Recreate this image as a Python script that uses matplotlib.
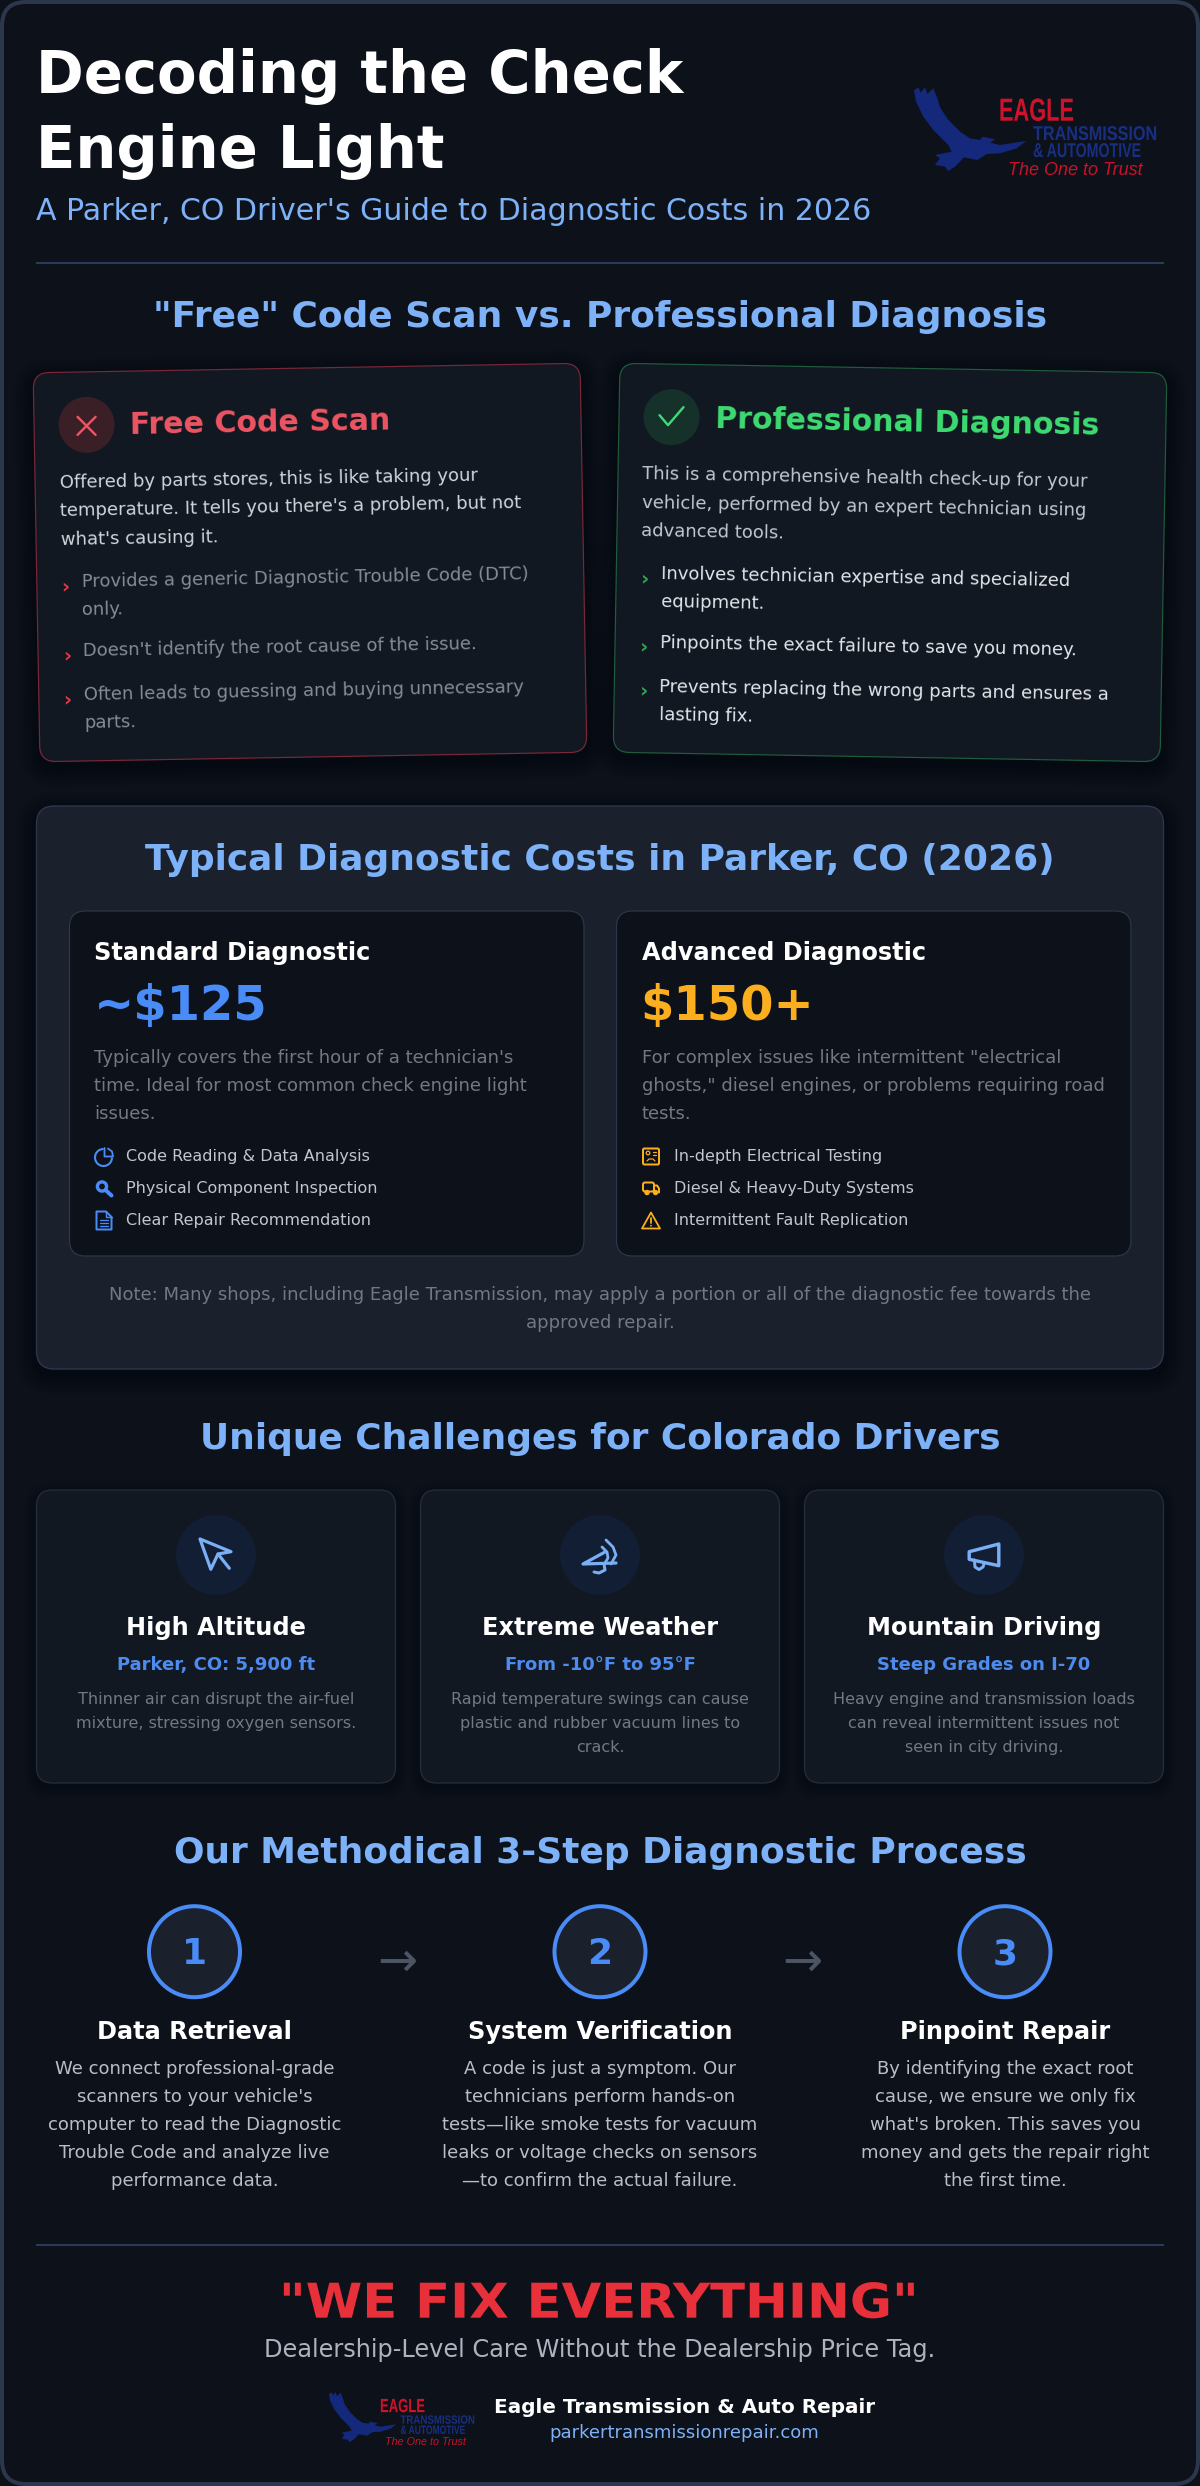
import matplotlib
matplotlib.use("Agg")
import matplotlib.pyplot as plt
from matplotlib.patches import FancyBboxPatch, Circle, Polygon, Arc
from matplotlib.patheffects import AbstractPathEffect
from matplotlib.transforms import Affine2D
import logging
logging.getLogger('matplotlib.font_manager').setLevel(logging.ERROR)

plt.rcParams['font.family'] = ['DejaVu Sans']

TITLE_LINES = ["Decoding the Check", "Engine Light"]
SUBTITLE = "A Parker, CO Driver's Guide to Diagnostic Costs in 2026"
H_COMPARE = '"Free" Code Scan vs. Professional Diagnosis'
FREE_TITLE = "Free Code Scan"
FREE_PARA = ["Offered by parts stores, this is like taking your",
             "temperature. It tells you there's a problem, but not",
             "what's causing it."]
FREE_ITEMS = [["Provides a generic Diagnostic Trouble Code (DTC)", "only."],
              ["Doesn't identify the root cause of the issue."],
              ["Often leads to guessing and buying unnecessary", "parts."]]
PRO_TITLE = "Professional Diagnosis"
PRO_PARA = ["This is a comprehensive health check-up for your",
            "vehicle, performed by an expert technician using",
            "advanced tools."]
PRO_ITEMS = [["Involves technician expertise and specialized", "equipment."],
             ["Pinpoints the exact failure to save you money."],
             ["Prevents replacing the wrong parts and ensures a", "lasting fix."]]
H_COSTS = "Typical Diagnostic Costs in Parker, CO (2026)"
COST_NAMES = ["Standard Diagnostic", "Advanced Diagnostic"]
COST_PRICES = ["~$125", "$150+"]
COST_DESCS = [["Typically covers the first hour of a technician's",
               "time. Ideal for most common check engine light", "issues."],
              ['For complex issues like intermittent "electrical',
               'ghosts," diesel engines, or problems requiring road', "tests."]]
COST_FEATURES = [["Code Reading & Data Analysis", "Physical Component Inspection", "Clear Repair Recommendation"],
                 ["In-depth Electrical Testing", "Diesel & Heavy-Duty Systems", "Intermittent Fault Replication"]]
COST_NOTE = ["Note: Many shops, including Eagle Transmission, may apply a portion or all of the diagnostic fee towards the",
             "approved repair."]
H_CHALLENGES = "Unique Challenges for Colorado Drivers"
CH_TITLES = ["High Altitude", "Extreme Weather", "Mountain Driving"]
CH_SUBS = ["Parker, CO: 5,900 ft", "From -10°F to 95°F", "Steep Grades on I-70"]
CH_DESCS = [["Thinner air can disrupt the air-fuel", "mixture, stressing oxygen sensors."],
            ["Rapid temperature swings can cause", "plastic and rubber vacuum lines to", "crack."],
            ["Heavy engine and transmission loads", "can reveal intermittent issues not", "seen in city driving."]]
H_PROCESS = "Our Methodical 3-Step Diagnostic Process"
STEP_NUMS = ["1", "2", "3"]
STEP_TITLES = ["Data Retrieval", "System Verification", "Pinpoint Repair"]
STEP_DESCS = [["We connect professional-grade", "scanners to your vehicle's", "computer to read the Diagnostic",
               "Trouble Code and analyze live", "performance data."],
              ["A code is just a symptom. Our", "technicians perform hands-on", "tests—like smoke tests for vacuum",
               "leaks or voltage checks on sensors", "—to confirm the actual failure."],
              ["By identifying the exact root", "cause, we ensure we only fix", "what's broken. This saves you",
               "money and gets the repair right", "the first time."]]
SLOGAN = '"WE FIX EVERYTHING"'
TAGLINE = "Dealership-Level Care Without the Dealership Price Tag."
COMPANY = "Eagle Transmission & Auto Repair"
URL = "parkertransmissionrepair.com"
LOGO_TEXT = ["EAGLE", "TRANSMISSION", "& AUTOMOTIVE", "The One to Trust"]

BG = '#0d111a'; PANEL = '#1a202c'; CARD = '#111822'; LINE = '#2d3748'
SKY = '#7db1f8'; BLUE = '#4a8cf7'; AMBER = '#fbae1e'; RED = '#e8303a'
G1 = '#d1d5db'; G2 = '#8b9099'; G3 = '#737983'

fig = plt.figure(figsize=(12, 24.86), dpi=100, facecolor=BG)
ax = fig.add_axes([0, 0, 1, 1])
ax.set_xlim(0, 1200); ax.set_ylim(2486, 0); ax.axis('off')


class Stretch(AbstractPathEffect):
    """Draws a real text object with its glyphs scaled horizontally from the left anchor."""

    def __init__(self, sx):
        super().__init__()
        self.sx = sx

    def draw_path(self, renderer, gc, tpath, affine, rgbFace=None):
        renderer.draw_path(gc, tpath, Affine2D().scale(self.sx, 1) + affine, rgbFace)


def T(x, y, s, px, color='white', weight='normal', ha='left', rot=0, family=None, style='normal', sx=None):
    kw = {}
    if family:
        kw['family'] = family
    t = ax.text(x, y, s, fontsize=px * 0.72, color=color, weight=weight, ha=ha, va='baseline',
                rotation=rot, rotation_mode='anchor', style=style, **kw)
    if sx:
        t.set_path_effects([Stretch(sx)])
    return t


def box(x0, y0, x1, y1, r, fc, ec='none', lw=1.0, tr=None, z=1, alpha=None):
    p = FancyBboxPatch((x0, y0), x1 - x0, y1 - y0, boxstyle=f"round,pad=0,rounding_size={r}",
                       fc=fc, ec=ec, lw=lw * 0.72, zorder=z, alpha=alpha)
    p.set_transform((tr + ax.transData) if tr is not None else ax.transData)
    ax.add_patch(p)
    return p


def shadow(x0, y0, x1, y1, r, tr=None, spread=20, dy=6, n=8, a=0.007):
    for i in range(n):
        e = spread * (1 - i / n)
        box(x0 - e, y0 - e + dy, x1 + e, y1 + e + dy, r + e, 'black', tr=tr, z=0.5, alpha=a)


def poly(pts, c, lw=2.0, closed=False, fill='none', z=3, cap='round'):
    ax.add_patch(Polygon(pts, closed=closed, fc=fill, ec=c, lw=lw * 0.72, zorder=z, capstyle=cap, joinstyle='round'))


def at(cx, cy, pts):
    return [(cx + a, cy + b) for a, b in pts]


# ---------- frame ----------
box(2, 2, 1198, 2484, 24, BG, ec='#2b374b', lw=4, z=0.1)

# ---------- logo ----------
EAGLE = [(72, 62), (85, 52), (92, 68), (105, 52), (112, 72), (130, 55), (142, 85), (150, 112), (175, 150), (210, 185),
         (240, 205), (270, 210), (278, 200), (315, 208), (300, 218), (330, 225), (408, 213), (380, 235), (330, 250),
         (290, 252), (262, 270), (222, 262), (195, 290), (175, 303), (165, 290), (135, 285), (150, 265), (135, 255),
         (185, 245), (175, 225), (130, 180), (100, 140), (78, 95)]


def logo(X0, Y0, k):
    pts = [(X0 + a / 3 * k, Y0 + b / 3 * k) for a, b in EAGLE]
    ax.add_patch(Polygon(pts, closed=True, fc='#15297c', ec='none', zorder=2))
    fam = ['Liberation Sans', 'DejaVu Sans']
    T(X0 + 109 * k, Y0 + 50.7 * k, LOGO_TEXT[0], 32 * k, '#d0112b', 'bold', family=fam, sx=0.68)
    T(X0 + 143 * k, Y0 + 70 * k, LOGO_TEXT[1], 20 * k, '#182f82', 'bold', family=fam, sx=0.81)
    T(X0 + 143 * k, Y0 + 87 * k, LOGO_TEXT[2], 20 * k, '#182f82', 'bold', family=fam, sx=0.71)
    T(X0 + 118 * k, Y0 + 105 * k, LOGO_TEXT[3], 18 * k, '#c8122c', style='italic', family=fam)


# ---------- header ----------
T(36, 93, TITLE_LINES[0], 57.6, 'white', 'bold')
T(36, 168, TITLE_LINES[1], 57.6, 'white', 'bold')
T(36, 220, SUBTITLE, 30, SKY)
logo(890, 70, 1)
ax.plot([36, 1164], [263, 263], color='#2b3a5c', lw=2 * 0.72, zorder=2, solid_capstyle='butt')
T(600, 327, H_COMPARE, 36, SKY, 'bold', ha='center')

ITEM_Y = [[583.3, 611.3], [652], [696, 724]]


# ---------- comparison cards ----------
def compare(x0, s, title, para, items, border, iconbg, tcol, pcol, lcol, chev, mark):
    cx, cy = x0 + 273.5, 562.5
    tr = Affine2D().rotate_deg_around(cx, cy, -s)
    shadow(x0, 368, x0 + 547, 757, 16, tr=tr)
    box(x0, 368, x0 + 547, 757, 16, CARD, ec=border, lw=1.2, tr=tr, z=1)
    P = lambda x, y: tuple(tr.transform((x0 + x, y)))
    ix, iy = P(52.5, 421)
    ax.add_patch(Circle((ix, iy), 28, fc=iconbg, ec='none', zorder=2))
    for seg in mark:
        poly(at(ix, iy, seg), tcol, lw=2.4)
    X, Y = P(96, 431)
    T(X, Y, title, 30, tcol, 'bold', rot=s)
    for i, line in enumerate(para):
        X, Y = P(24.5, 483.3 + i * 28.6)
        T(X, Y, line, 18, pcol, rot=s)
    for item, ys in zip(items, ITEM_Y):
        X, Y = P(24.5, ys[0] + 5)
        T(X, Y, '›', 20, chev, 'bold', rot=s)
        for line, y in zip(item, ys):
            X, Y = P(45, y)
            T(X, Y, line, 18, lcol, rot=s)


compare(36.5, 1, FREE_TITLE, FREE_PARA, FREE_ITEMS, '#7a2738', '#3a1f27', '#ee5563', G1, '#868b94', '#e63946',
        [[(-9, -8), (9, 10)], [(9, -8), (-9, 10)]])
compare(616.5, -1, PRO_TITLE, PRO_PARA, PRO_ITEMS, '#1f5c3c', '#16302a', '#3ddc71', '#c3c8cf', '#e2e5ea', '#2fa855',
        [[(-12, -2), (-3.5, 8), (12, -10)]])

# ---------- costs ----------
shadow(36.5, 806, 1163.5, 1369, 18)
box(36.5, 806, 1163.5, 1369, 18, PANEL, ec=LINE, lw=1.4, z=1)
T(600, 869.6, H_COSTS, 36, SKY, 'bold', ha='center')


def ic_pie(x, y, c):
    ax.add_patch(Arc((x - 0.5, y + 1), 17, 17, theta1=0, theta2=270, ec=c, lw=1.5, zorder=3))
    poly(at(x, y, [(0.5, -8.5), (0.5, 0), (9, 0), (8, -5), (4, -8), (0.5, -8.5)]), c, lw=1.8)


def ic_mag(x, y, c):
    ax.add_patch(Circle((x - 2, y - 2), 4.6, fc='none', ec=c, lw=2.4, zorder=3))
    poly([(x + 1.5, y + 1.5), (x + 7.5, y + 7)], c, lw=4)


def ic_doc(x, y, c):
    poly(at(x, y, [(-7.5, -9), (2, -9), (7.5, -3.5), (7.5, 9), (-7.5, 9)]), c, lw=2, closed=True)
    poly(at(x, y, [(2, -9), (2, -3.5), (7.5, -3.5)]), c, lw=1.4)
    for d in (-1, 2.5, 5.5):
        poly(at(x, y, [(-4, d), (4, d)]), c, lw=1.3)


def ic_board(x, y, c):
    box(x - 8, y - 8, x + 8, y + 8, 1.5, 'none', ec=c, lw=2, z=3)
    ax.add_patch(Circle((x - 3, y - 3.5), 1.8, fc='none', ec=c, lw=0.9, zorder=3))
    poly(at(x, y, [(2, -4.5), (5, -4.5)]), c, lw=1.2)
    poly(at(x, y, [(2, -1.5), (5, -1.5)]), c, lw=1.2)
    poly(at(x, y, [(-4, 4.5), (-2, 2.5), (2, 2.5), (4, 4.5)]), c, lw=1.2)


def ic_truck(x, y, c):
    box(x - 8, y - 6, x + 3, y + 3, 2, 'none', ec=c, lw=2, z=3)
    poly(at(x, y, [(3, -3), (6, -3), (8, 0), (8, 4)]), c, lw=2)
    for d in (-4, 4.5):
        ax.add_patch(Circle((x + d, y + 4), 1.8, fc=c, ec=c, lw=1.3, zorder=4))


def ic_warn(x, y, c):
    poly(at(x, y, [(0, -8), (9, 8), (-9, 8)]), c, lw=1.8, closed=True)
    poly(at(x, y, [(0, -2.5), (0, 2.5)]), c, lw=1.8)
    ax.add_patch(Circle((x, y + 5.2), 0.9, fc=c, ec='none', zorder=3))


ICONS = [[ic_pie, ic_mag, ic_doc], [ic_board, ic_truck, ic_warn]]
COST_COLS = [BLUE, AMBER]
for j, x0 in enumerate((69.5, 616.5)):
    box(x0, 911, x0 + 514.5, 1256, 16, BG, ec=LINE, lw=1.2, z=2)
    tx = x0 + 25
    T(tx, 959.8, COST_NAMES[j], 24, 'white', 'bold').set_zorder(4)
    T(tx - 1, 1020, COST_PRICES[j], 48, COST_COLS[j], 'bold').set_zorder(4)
    for i, line in enumerate(COST_DESCS[j]):
        T(tx, 1063.4 + i * 28, line, 18, G3).set_zorder(4)
    for i, line in enumerate(COST_FEATURES[j]):
        T(x0 + 57, 1160.7 + i * 32, line, 16, '#c2c7cf').set_zorder(4)
        ICONS[j][i](x0 + 34.5, 1156.5 + i * 32, COST_COLS[j])
for i, line in enumerate(COST_NOTE):
    T(600, 1300 + i * 28, line, 18, G3, ha='center').set_zorder(4)

# ---------- challenges ----------
T(600, 1449, H_CHALLENGES, 36, SKY, 'bold', ha='center')
ICON_BLUE = '#7aaef5'
for j, x0 in enumerate((36.5, 420.5, 804.5)):
    cx = x0 + 179.5
    shadow(x0, 1490, x0 + 359, 1783, 16, n=6, a=0.007, spread=12, dy=4)
    box(x0, 1490, x0 + 359, 1783, 16, CARD, ec='#262d39', lw=1.3, z=1)
    ax.add_patch(Circle((cx, 1555), 40, fc='#121e33', ec='none', zorder=2))
    if j == 0:
        poly(at(cx, 1555, [(-16, -16), (15, -3.3), (2, -1), (-5.2, 14.3)]), ICON_BLUE, lw=3.2, closed=True)
        poly(at(cx, 1555, [(2, -1), (13.3, 13.3)]), ICON_BLUE, lw=3.2)
    elif j == 1:
        poly(at(cx, 1555, [(5, -3), (-17, 9), (16, 8)]), ICON_BLUE, lw=3.2)
        poly(at(cx, 1555, [(6, -15), (13, -8), (16, 0), (11, 9)]), ICON_BLUE, lw=2.8)
        poly(at(cx, 1555, [(2, -8), (7, -3), (8, 3), (5, 8)]), ICON_BLUE, lw=2.8)
        poly(at(cx, 1555, [(4, 9), (5, 15), (-1, 18), (-6, 17)]), ICON_BLUE, lw=3)
    else:
        poly(at(cx, 1555, [(14.8, -11), (14.8, 10.7), (-14.8, 4.3), (-14.8, -3.3)]), ICON_BLUE, lw=3.4, closed=True)
        poly(at(cx, 1555, [(-9.6, 5), (-9, 12), (-5, 14.5), (-1, 12), (0, 9)]), ICON_BLUE, lw=3)
    T(cx, 1635, CH_TITLES[j], 24, 'white', 'bold', ha='center')
    T(cx, 1670, CH_SUBS[j], 18, '#4d8bef', 'bold', ha='center')
    for i, line in enumerate(CH_DESCS[j]):
        T(cx, 1704.3 + i * 24, line, 16, G3, ha='center')

# ---------- process ----------
T(600, 1863, H_PROCESS, 36, SKY, 'bold', ha='center')
for j, cx in enumerate((194.5, 600, 1005)):
    ax.add_patch(Circle((cx, 1951.7), 45.5, fc=PANEL, ec=BLUE, lw=4 * 0.72, zorder=2))
    T(cx, 1964, STEP_NUMS[j], 36, BLUE, 'bold', ha='center')
    T(cx, 2039, STEP_TITLES[j], 24, 'white', 'bold', ha='center')
    for i, line in enumerate(STEP_DESCS[j]):
        T(cx, 2074.3 + i * 28, line, 18, '#b9bec7', ha='center')
for x in (397, 802.5):
    T(x, 1976, '→', 48, '#4b5563', ha='center')

# ---------- footer ----------
ax.plot([36, 1164], [2244.7, 2244.7], color='#2b3a5c', lw=2 * 0.72, zorder=2, solid_capstyle='butt')
T(279, 2317.7, SLOGAN, 48, RED, 'bold', sx=1.068)
T(600, 2356.7, TAGLINE, 24, '#aeb4bf', ha='center')
logo(314.6, 2381.7, 0.6)
T(685, 2412.7, COMPANY, 20, 'white', 'bold', ha='center')
T(684.7, 2438, URL, 18, SKY, ha='center')

fig.savefig('out.png', dpi=100, facecolor=BG)
